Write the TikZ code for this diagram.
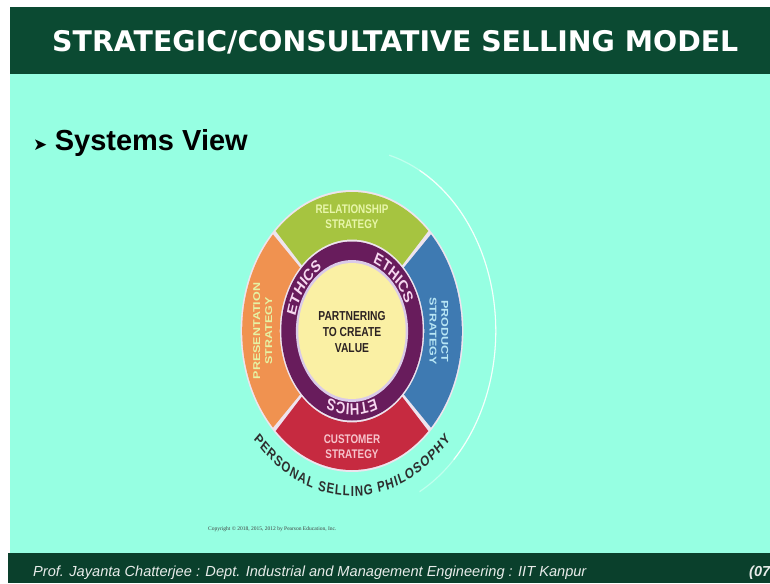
\documentclass[tikz,border=0pt]{standalone}
\usepackage{fontspec}
\setmainfont{Liberation Sans}
\newfontfamily\verdfont{DejaVu Sans}
\newfontfamily\copyfont{Liberation Serif}
\usepackage{tikz}
\usetikzlibrary{positioning, decorations.text}

\definecolor{titlebar}{RGB}{11,74,50}
\definecolor{footbar}{RGB}{10,64,44}
\definecolor{foottext}{RGB}{232,236,234}
\definecolor{aqua}{RGB}{150,255,226}
\definecolor{rim}{RGB}{238,228,238}
\definecolor{relgreen}{RGB}{166,196,64}
\definecolor{prodblue}{RGB}{62,122,178}
\definecolor{custred}{RGB}{198,42,64}
\definecolor{presorange}{RGB}{240,146,80}
\definecolor{ethicspurple}{RGB}{104,28,92}
\definecolor{lavender}{RGB}{218,202,232}
\definecolor{coreyellow}{RGB}{250,240,164}
\definecolor{reltext}{RGB}{232,246,170}
\definecolor{prodtext}{RGB}{184,230,245}
\definecolor{custtext}{RGB}{246,196,204}
\definecolor{prestext}{RGB}{230,242,164}
\definecolor{ethicstext}{RGB}{246,216,240}
\definecolor{coretext}{RGB}{44,34,34}

\newcommand\ethicsfont{\fontsize{16.5}{16.5}\selectfont\bfseries\color{ethicstext}}
\newcommand\psfont{\fontsize{14.5}{14.5}\selectfont\bfseries\color{black!82}}

\tikzset{
  seglabel/.style={font=\fontsize{12.5}{15}\selectfont\bfseries, align=center, inner sep=0pt},
  corelabel/.style={font=\fontsize{13}{16}\selectfont\bfseries, align=center, inner sep=0pt, text=coretext}
}

\begin{document}
\begin{tikzpicture}[x=1pt, y=-1pt]
  \useasboundingbox (0,0) rectangle (770,583);

  % Slide background
  \fill[white] (0,0) rectangle (770,583);
  \fill[aqua] (10,7) rectangle (770,583);
  \fill[titlebar] (10,7) rectangle (770,74);
  \fill[footbar] (8,553) rectangle (770,583);

  % Title and bullet
  \node[anchor=base west, inner sep=0pt, text=white, font=\verdfont\bfseries\fontsize{28.4}{30}\selectfont] (title) at (52,52) {STRATEGIC/CONSULTATIVE SELLING MODEL};
  \node[anchor=base west, inner sep=0pt, font=\verdfont\fontsize{17}{18}\selectfont] (bullet) at (33,150) {➤};
  \node[right=7pt of bullet.base east, anchor=base west, inner sep=0pt, font=\bfseries\fontsize{29}{32}\selectfont] (systems) {Systems View};

  % Footer
  \node[anchor=base west, inner sep=0pt, text=foottext, font=\itshape\fontsize{14.6}{16}\selectfont] (footer) at (33,576) {Prof. Jayanta Chatterjee : Dept. Industrial and Management Engineering : IIT Kanpur};
  \node[anchor=base west, inner sep=0pt, text=foottext, font=\bfseries\itshape\fontsize{14.5}{16}\selectfont] (page) at (749,576) {(07};

  % Copyright line
  \node[anchor=west, inner sep=0pt, text=black!75, font=\copyfont\fontsize{5.5}{6}\selectfont] (copyright) at (208,529) {Copyright © 2018, 2015, 2012 by Pearson Education, Inc.};

  % Wheel
  \begin{scope}[transform canvas={shift={(352pt,-331pt)}, xscale=0.79}, y=1pt]
    % outer glow arc
    \draw[white, line width=1.3pt, opacity=0.4] (-62:182) arc[start angle=-62, end angle=75, radius=182];
    \draw[white, line width=1.3pt, opacity=0.85] (-45:182) arc[start angle=-45, end angle=62, radius=182];

    % strategy segments
    \fill[rim] (0,0) circle[radius=141];
    \fill[relgreen] (46:91.5) arc[start angle=46, end angle=134, radius=91.5] -- (134:139) arc[start angle=134, end angle=46, radius=139] -- cycle;
    \fill[presorange] (136:91.5) arc[start angle=136, end angle=224, radius=91.5] -- (224:139) arc[start angle=224, end angle=136, radius=139] -- cycle;
    \fill[custred] (226:91.5) arc[start angle=226, end angle=314, radius=91.5] -- (314:139) arc[start angle=314, end angle=226, radius=139] -- cycle;
    \fill[prodblue] (-44:91.5) arc[start angle=-44, end angle=44, radius=91.5] -- (44:139) arc[start angle=44, end angle=-44, radius=139] -- cycle;

    \node[seglabel, text=reltext] (relationship) at (0,114) {RELATIONSHIP\\STRATEGY};
    \node[seglabel, text=prodtext, rotate=-90] (product) at (110,0) {PRODUCT\\STRATEGY};
    \node[seglabel, text=custtext] (customer) at (0,-116) {CUSTOMER\\STRATEGY};
    \node[seglabel, text=prestext, rotate=90] (presentation) at (-113,0) {PRESENTATION\\STRATEGY};

    % ethics ring and core
    \fill[ethicspurple] (0,0) circle[radius=89.5];
    \fill[lavender] (0,0) circle[radius=71];
    \fill[coreyellow] (0,0) circle[radius=68];
    \node[corelabel] (core) at (0,-1) {PARTNERING\\TO CREATE\\VALUE};

    \path[decorate, decoration={text along path, text={|\ethicsfont|ETHICS}, text align=center}] (175:73) arc[start angle=175, end angle=115, radius=73];
    \path[decorate, decoration={text along path, text={|\ethicsfont|ETHICS}, text align=center}] (75:73) arc[start angle=75, end angle=15, radius=73];
    \path[decorate, decoration={text along path, text={|\ethicsfont|ETHICS}, text align=center}] (300:73) arc[start angle=300, end angle=240, radius=73];

    % philosophy text below
    \path[decorate, decoration={text along path, text={|\psfont|PERSONAL SELLING PHILOSOPHY}, text align={fit to path}}] (221:165) arc[start angle=221, end angle=319, radius=165];
  \end{scope}
\end{tikzpicture}
\end{document}
